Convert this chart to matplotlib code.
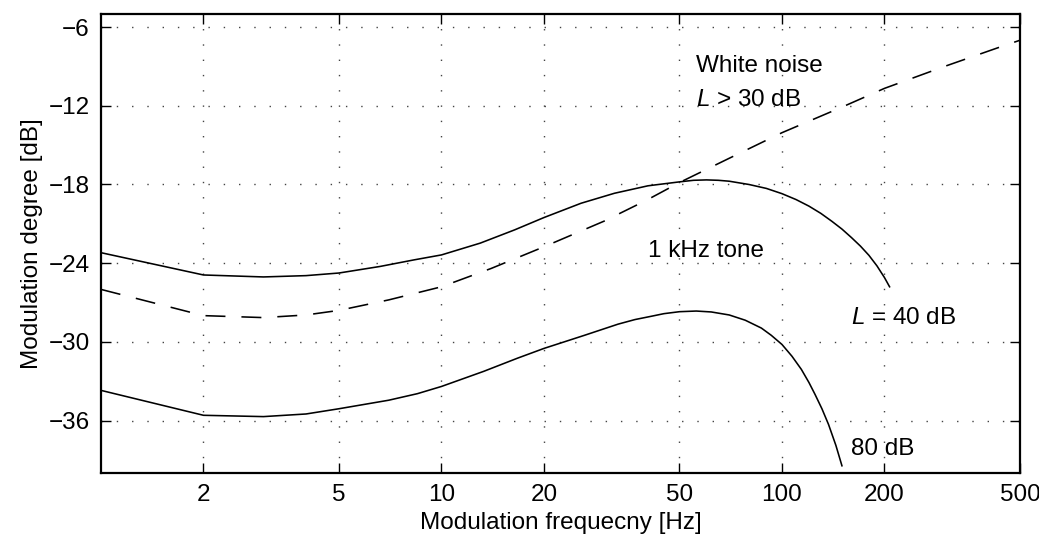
import numpy as np
import matplotlib
matplotlib.use("Agg")
import matplotlib.pyplot as plt
from matplotlib.ticker import FixedLocator, FixedFormatter, NullLocator

plt.rcParams['font.family'] = ['Liberation Sans', 'DejaVu Sans']
plt.rcParams['mathtext.fontset'] = 'custom'
plt.rcParams['mathtext.it'] = 'Liberation Sans:italic'
plt.rcParams['mathtext.rm'] = 'Liberation Sans'

# Data
# 1 kHz tone, L = 40 dB
f_40 = [1, 2, 3, 4, 5, 6.6, 8.3, 10, 13, 16.4, 20, 25.7, 32.2, 40.4, 50, 55, 60, 65, 70, 80, 90,
        100, 110, 120, 130, 140, 150, 160, 170, 180, 190, 200, 207]
m_40 = [-23.2, -24.9, -25.05, -24.95, -24.75, -24.25, -23.75, -23.37, -22.47, -21.46, -20.52,
        -19.43, -18.67, -18.1, -17.8, -17.68, -17.65, -17.68, -17.75, -18.0, -18.3,
        -18.7, -19.15, -19.65, -20.2, -20.8, -21.4, -22.05, -22.7, -23.4, -24.2, -25.1, -25.8]

# 1 kHz tone, 80 dB
f_80 = [1, 2, 3, 4, 5, 7, 8.5, 10, 13.3, 16.7, 20, 26.3, 33, 37, 41.3, 45, 50, 56, 62, 70, 78,
        87, 93, 100, 107, 114, 120, 125, 131, 137, 144, 150]
m_80 = [-33.7, -35.6, -35.7, -35.5, -35.1, -34.45, -33.95, -33.4, -32.25, -31.25, -30.5, -29.5,
        -28.65, -28.3, -28.05, -27.85, -27.7, -27.65, -27.72, -27.95, -28.35, -28.95, -29.5,
        -30.2, -31.1, -32.1, -33.1, -34.0, -35.1, -36.3, -37.9, -39.45]

# White noise, L > 30 dB
f_wn = [1, 2, 3, 4, 5, 7, 10, 14, 20, 30, 40, 50, 70, 100, 150, 200, 300, 431, 500]
m_wn = [-26.0, -28.0, -28.15, -27.95, -27.6, -26.8, -25.8, -24.4, -22.75, -20.8, -19.2, -17.85,
        -16.0, -14.05, -12.1, -10.67, -9.0, -7.57, -7.0]

xticks = [2, 5, 10, 20, 50, 100, 200, 500]
yticks = [-36, -30, -24, -18, -12, -6]

fs = 17.5

fig = plt.figure(figsize=(10.39, 5.41), dpi=100)
ax = fig.add_axes([0.0972, 0.1257, 0.8845, 0.8484])

ax.plot(f_40, m_40, color='black', lw=1.15)
ax.plot(f_80, m_80, color='black', lw=1.15)
ax.plot(f_wn, m_wn, color='black', lw=1.15, dashes=(12.5, 10))

ax.set_xscale('log')
ax.set_xlim(1, 500)
ax.set_ylim(-40, -5)
ax.xaxis.set_major_locator(FixedLocator(xticks))
ax.xaxis.set_major_formatter(FixedFormatter([str(v) for v in xticks]))
ax.xaxis.set_minor_locator(NullLocator())
ax.set_yticks(yticks)

ax.grid(True, color='#444444', linestyle=(0, (1, 10)), lw=1.0)
ax.tick_params(direction='in', length=7, width=1.0, top=True, right=True,
               labelsize=fs, pad=8, colors='black')
for s in ax.spines.values():
    s.set_linewidth(1.6)

ax.set_xlabel('Modulation frequecny [Hz]', fontsize=fs, labelpad=4)
ax.set_ylabel('Modulation degree [dB]', fontsize=fs, labelpad=4)

ax.text(56, -9.0, 'White noise', fontsize=fs, va='center', ha='left')
ax.text(56, -11.55, r'$L$ > 30 dB', fontsize=fs, va='center', ha='left')
ax.text(40.5, -23.1, '1 kHz tone', fontsize=fs, va='center', ha='left')
ax.text(160, -28.2, r'$L$ = 40 dB', fontsize=fs, va='center', ha='left')
ax.text(160, -38.2, '80 dB', fontsize=fs, va='center', ha='left')

fig.savefig('out.png', dpi=100)
